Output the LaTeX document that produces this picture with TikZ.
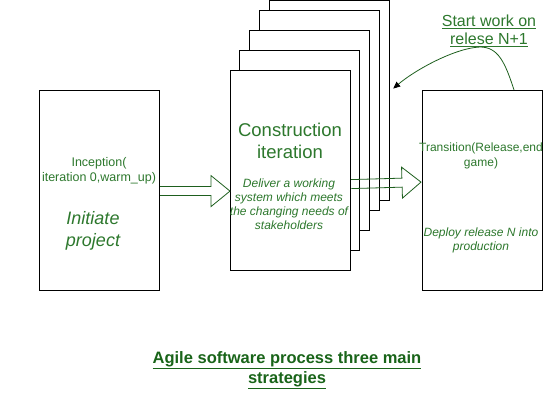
\documentclass[tikz,border=0pt]{standalone}
\usepackage{fontspec}
\setmainfont{Liberation Sans}
\usetikzlibrary{calc,arrows.meta}
\definecolor{txtgreen}{RGB}{45,120,45}
\definecolor{headgreen}{RGB}{25,100,25}
\definecolor{linegreen}{RGB}{30,95,30}
\tikzset{
  box/.style={draw=black,line width=1.2pt,fill=white,minimum width=120pt,minimum height=200pt,inner sep=0pt,anchor=north west},
  txt/.style={text=txtgreen,align=center,inner sep=0pt},
  hollow/.style={draw=linegreen,line width=0.8pt,line join=miter},
}
\newcommand\myhollowarrow[2]{%
  \coordinate (hb) at ($(#2)!19pt!(#1)$);
  \draw[hollow] ($(#1)!4.5pt!90:(#2)$) -- ($(hb)!4.5pt!-90:(#1)$) -- ($(hb)!15.5pt!-90:(#1)$)
    -- (#2) -- ($(hb)!15.5pt!90:(#1)$) -- ($(hb)!4.5pt!90:(#1)$) -- ($(#1)!4.5pt!-90:(#2)$);
}
\begin{document}
\begin{tikzpicture}[x=1pt,y=-1pt]
\useasboundingbox (0,0) rectangle (547,401);
% boxes
\node[box] (inc) at (39,90) {};
\node[box] (c5) at (269,0) {};
\node[box] (c4) at (259,10) {};
\node[box] (c3) at (249,30) {};
\node[box] (c2) at (239,50) {};
\node[box] (c1) at (230,70) {};
\node[box] (tr) at (422,90) {};
% texts
\node[txt,font=\fontsize{12.5}{15}\selectfont] (inct) at (99,171) {Inception(\\iteration 0,warm\_up)};
\node[txt,font=\fontsize{18}{22}\selectfont\itshape] (init) at (93,231) {Initiate\\project};
\node[txt,font=\fontsize{18.5}{22}\selectfont] (cit) at (290,141) {Construction\\iteration};
\node[txt,font=\fontsize{12}{14}\selectfont\itshape] (cdt) at (289,204) {Deliver a working\\system which meets\\the changing needs of\\stakeholders};
\node[txt,font=\fontsize{12}{15}\selectfont] (trt) at (481,155.5) {Transition(Release,end\\game)};
\node[txt,font=\fontsize{12}{14}\selectfont\itshape] (trd) at (481,240) {Deploy release N into\\production};
\node[txt,font=\fontsize{16}{18}\selectfont] (lbl) at (489,31) {\underline{Start work on}\\\underline{relese N+1}};
\node[txt,text=headgreen,font=\fontsize{16.5}{20}\selectfont\bfseries] (title) at (287,370) {\underline{Agile software process three main}\\\underline{strategies}};
% block arrows
\coordinate (a1s) at ($(inc.east)+(0,0.5)$);
\coordinate (a1e) at (a1s -| c1.west);
\myhollowarrow{a1s}{a1e}
\coordinate (a2s) at ($(c1.east)+(0,13.5)$);
\coordinate (a2e) at ($(tr.west)+(-1,-8.5)$);
\myhollowarrow{a2s}{a2e}
% curved arrow
\coordinate (cs) at ($(tr.north west)+(92,0)$);
\coordinate (ce) at ($(c5.east)+(3,-12)$);
\draw[linegreen,line width=0.8pt,-{Triangle[length=7pt,width=6pt,color=black]}] (cs) .. controls (505,62) and (498,47) .. (480,47) .. controls (455,48) and (415,70) .. (ce);
\end{tikzpicture}
\end{document}
